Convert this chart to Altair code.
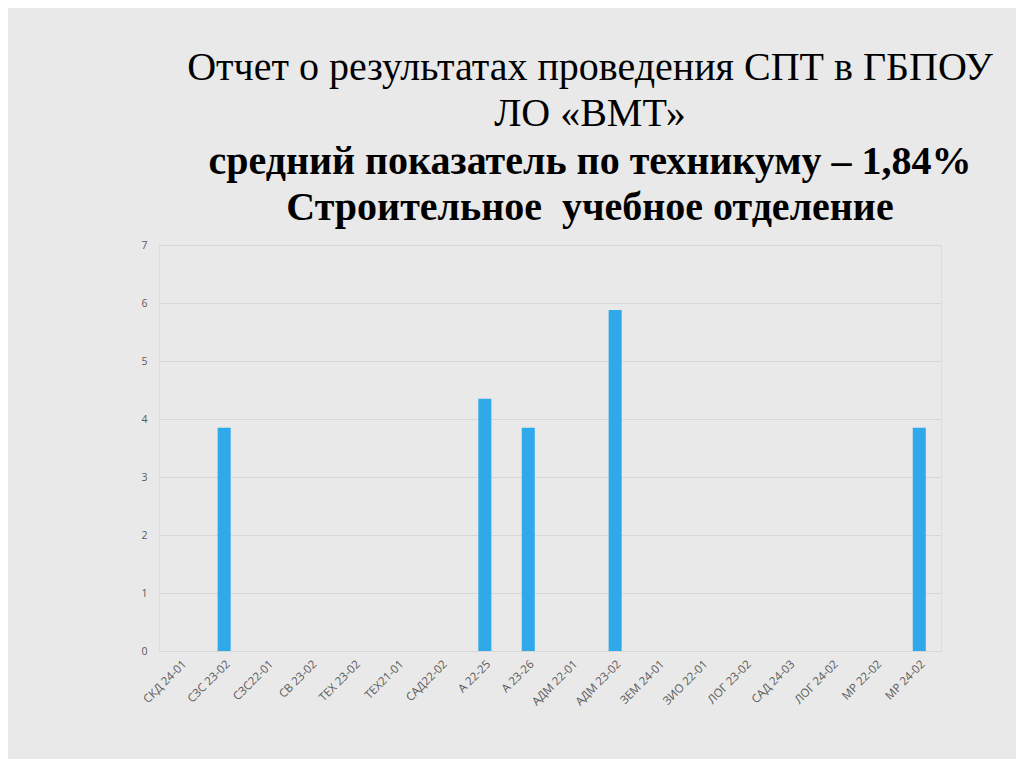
import altair as alt
import pandas as pd

groups = ["СКД 24-01", "СЗС 23-02", "СЗС22-01", "СВ 23-02", "ТЕХ 23-02", "ТЕХ21-01",
          "САД22-02", "А 22-25", "А 23-26", "АДМ 22-01", "АДМ 23-02", "ЗЕМ 24-01",
          "ЗИО 22-01", "ЛОГ 23-02", "САД 24-03", "ЛОГ 24-02", "МР 22-02", "МР 24-02"]
values = [0, 3.85, 0, 0, 0, 0, 0, 4.35, 3.85, 0, 5.88, 0, 0, 0, 0, 0, 0, 3.85]

title_lines = ["Отчет о результатах проведения СПТ в ГБПОУ", "ЛО «ВМТ»"]
subtitle_lines = ["средний показатель по техникуму – 1,84%", "Строительное\u00a0 учебное отделение"]

df = pd.DataFrame({"group": groups, "value": values})

chart = alt.Chart(df).mark_bar(color="#2fa9e9").encode(
    x=alt.X("group:N", sort=groups, title=None,
            scale=alt.Scale(paddingInner=0.7, paddingOuter=0.35),
            axis=alt.Axis(labelAngle=-45, labelFont="Open Sans", labelFontSize=11.5,
                          labelColor="#595959", domain=False, ticks=False,
                          labelPadding=7, labelAlign="right", labelBaseline="top")),
    y=alt.Y("value:Q", title=None,
            scale=alt.Scale(domain=[0, 7]),
            axis=alt.Axis(values=[0, 1, 2, 3, 4, 5, 6, 7], labelFont="Open Sans",
                          labelFontSize=10.5, labelColor="#595959", domain=False,
                          ticks=False, labelPadding=12, gridColor="#d6d6d6",
                          gridWidth=1)),
).properties(
    width=782,
    height=406,
    title=alt.TitleParams(
        text=title_lines,
        subtitle=subtitle_lines,
        font="Liberation Serif",
        fontSize=40,
        fontWeight="normal",
        color="#000000",
        lineHeight=46,
        subtitleFont="Liberation Serif",
        subtitleFontSize=40,
        subtitleFontWeight="bold",
        subtitleColor="#000000",
        subtitleLineHeight=46,
        subtitlePadding=8,
        anchor="middle",
        dx=40,
        offset=12,
    ),
    autosize=alt.AutoSizeParams(type="none"),
    padding={"left": 151, "top": 237, "right": 75, "bottom": 108},
).configure_view(
    stroke=None
).configure(
    background="#e9e9e9"
)

chart.save("out.html", embed_options={"renderer": "svg", "actions": False})
